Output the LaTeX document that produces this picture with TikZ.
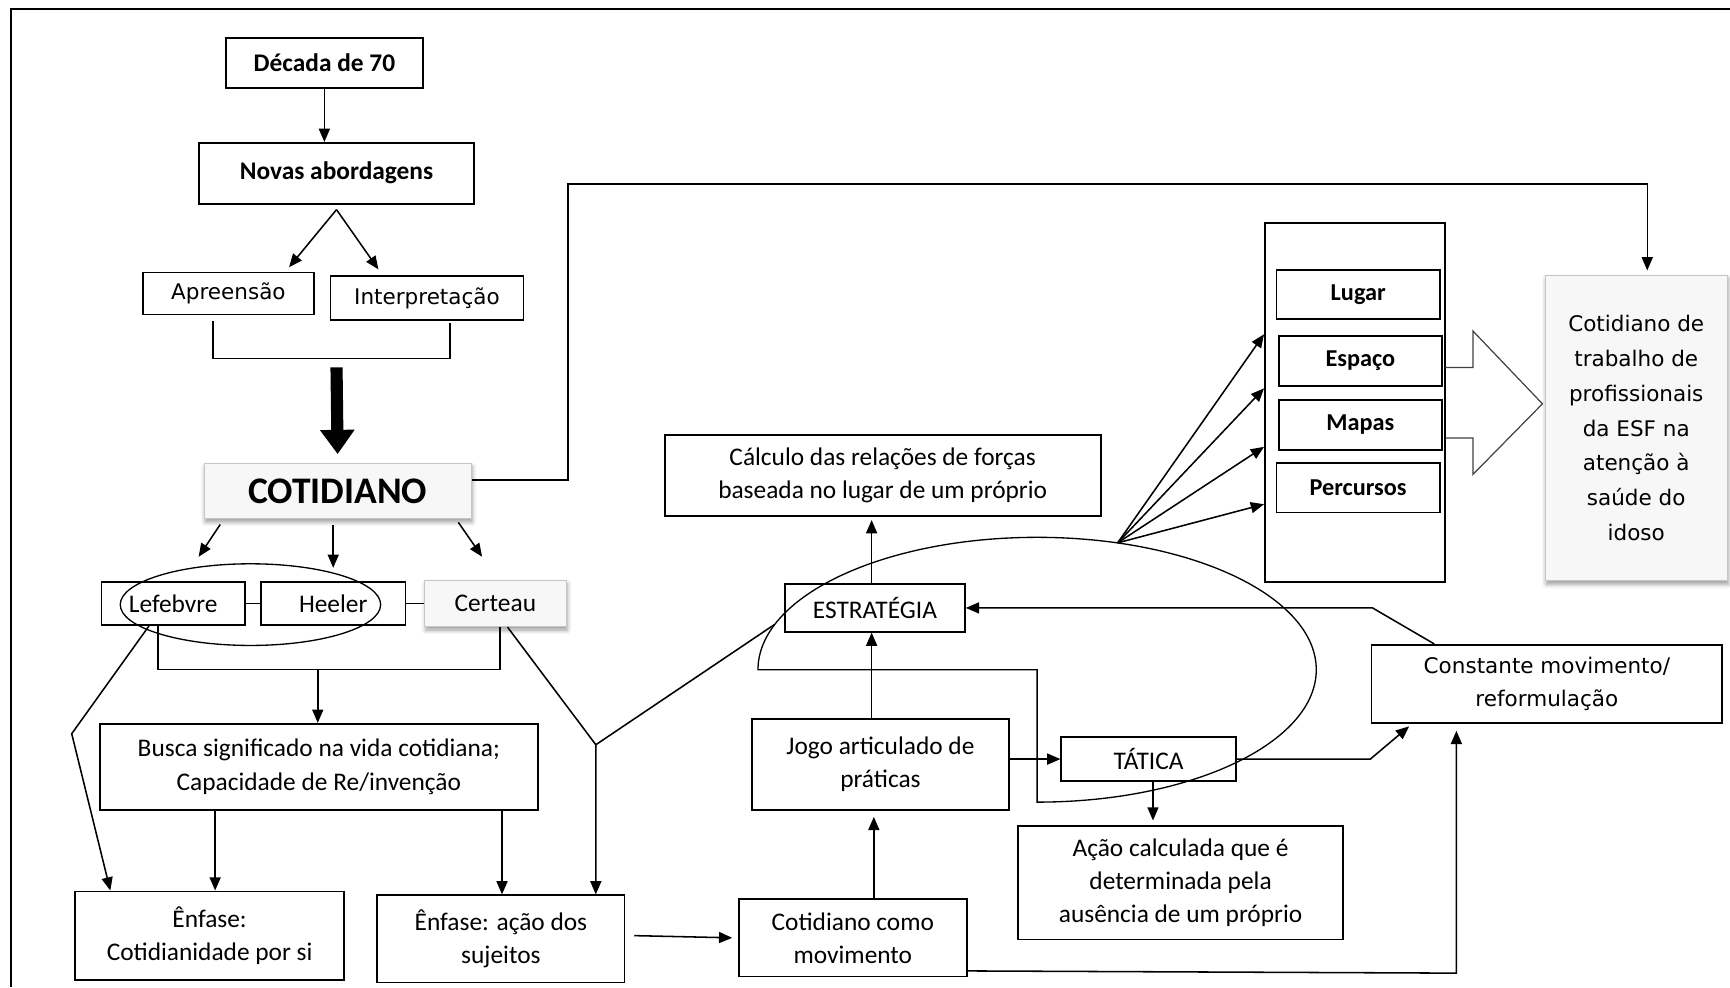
\documentclass[tikz,border=0pt]{standalone}
\usepackage{fontspec}
\setmainfont{Carlito}
\newfontfamily\tahfont{DejaVu Sans}
\usetikzlibrary{arrows.meta,shadows.blur}

\tikzset{
  box/.style={draw, line width=1.7pt, align=center, inner sep=2pt,
    font=\fontsize{23}{30}\selectfont},
  bevel/.style={box, draw=gray!45, line width=0.8pt, fill=gray!6,
    blur shadow={shadow xshift=1pt, shadow yshift=-3pt, shadow blur radius=4pt}},
  bold box/.style={box, font=\bfseries\fontsize{23}{30}\selectfont},
  wide box/.style={box, font=\tahfont\fontsize{19.5}{30}\selectfont}
}

\begin{document}
\begin{tikzpicture}[x=1pt, y=-1pt, line width=1.4pt, >={Triangle[length=12pt,width=10pt]}]
            \useasboundingbox (0,0) rectangle (1568,895);
            \draw (1568,8) -- (10,8) -- (10,895);

            \node[bold box, minimum width=178, minimum height=45] (N_1) at (294,57) {Década de 70};
            \node[bold box, minimum width=250, minimum height=55] (N_2) at (305,157) {Novas abordagens};
            \node[wide box, minimum width=155, minimum height=38] (N_3) at (207,266) {\raisebox{-5pt}{Apreensão}};
            \node[wide box, minimum width=175, minimum height=40] (N_4) at (387,270) {Interpretação};
            \node[bevel, font=\bfseries\fontsize{34}{40}\selectfont, minimum width=242, minimum height=50] (N_5) at (306,445) {COTIDIANO};
            \node[box, minimum width=130, minimum height=39] (N_6) at (157,547) {Lefebvre};
            \node[box, minimum width=131, minimum height=39] (N_7) at (302,547) {Heeler};
            \node[bevel, minimum width=128, minimum height=42] (N_8) at (449,547) {Certeau};
            \node[box, minimum width=397, minimum height=78] (N_9) at (289,695) {Busca significado na vida cotidiana;\\Capacidade de Re/invenção};
            \node[box, minimum width=244, minimum height=80] (N_10) at (190,848) {Ênfase:\\Cotidianidade por si};
            \node[box, minimum width=224, minimum height=79] (N_11) at (454,851) {Ênfase: ação dos\\sujeitos};
            \node[box, minimum width=207, minimum height=70] (N_12) at (773,850) {Cotidiano como\\movimento};
            \node[box, minimum width=233, minimum height=83] (N_13) at (798,693) {Jogo articulado de\\práticas};
            \node[box, minimum width=163, minimum height=43] (N_14) at (793,551) {ESTRATÉGIA};
            \node[box, minimum width=395, minimum height=73] (N_15) at (800,431) {Cálculo das relações de forças\\baseada no lugar de um próprio};
            \node[box, minimum width=158, minimum height=40] (N_16) at (1041,688) {TÁTICA};
            \node[box, minimum width=294, minimum height=103] (N_17) at (1070,800) {Ação calculada que é\\determinada pela\\ausência de um próprio};
            \node[wide box, minimum width=318, minimum height=71] (N_18) at (1402,620) {Constante movimento/\\reformulação};
            \node[box, minimum width=163, minimum height=325] (N_19) at (1228,365) {};
            \node[bold box, font=\bfseries\fontsize{22}{28}\selectfont, minimum width=148, minimum height=45] (N_20) at (1231,267) {Lugar};
            \node[bold box, font=\bfseries\fontsize{22}{28}\selectfont, minimum width=148, minimum height=45] (N_21) at (1233,327) {Espaço};
            \node[bold box, font=\bfseries\fontsize{22}{28}\selectfont, minimum width=148, minimum height=45] (N_22) at (1233,385) {Mapas};
            \node[bold box, font=\bfseries\fontsize{22}{28}\selectfont, minimum width=148, minimum height=45] (N_23) at (1231,442) {Percursos};
            \node[bevel, font=\tahfont\fontsize{19.5}{31.5}\selectfont, minimum width=165, minimum height=277] (N_24) at (1483,388) {Cotidiano de\\trabalho de\\profissionais\\da ESF na\\atenção à\\saúde do\\idoso};

            \coordinate (S_1) at (305,190);
            \coordinate (J_1) at (305,325);
            \coordinate (J_2) at (288,607);
            \coordinate (K_1) at (515,167);
            \coordinate (K_2) at (65,665);
            \coordinate (K_3) at (540,675);
            \coordinate (K_4) at (1242,688);
            \coordinate (K_5) at (1244,551);
            \coordinate (K_6) at (1320,882);
            \coordinate (E_1) at (702,566);
            \coordinate (F_1) at (1013,492);

            \draw[->] (N_1.south -| 294,0) -- (N_1.south |- N_2.north);
            \draw[->] (S_1) -- ([xshift=55pt,yshift=4pt]N_3.north);
            \draw[->] (S_1) -- ([xshift=-44pt,yshift=5pt]N_4.north);
            \draw ([xshift=-14pt,yshift=-5pt]N_3.south) |- (J_1) -| ([xshift=21pt,yshift=-2pt]N_4.south);
            \draw[line width=11pt, -{Triangle[length=22pt,width=30pt]}] ([yshift=-8pt]J_1) -- ([yshift=8pt]N_5.north);

            \draw[->, shorten >=4pt] ([yshift=10pt]N_5.east) -| (K_1) -| ([xshift=10pt]N_24.north);
            \draw[->] ([xshift=15pt,yshift=-5pt]N_5.south west) -- ([xshift=23pt,yshift=22pt]N_6.north);
            \draw[->] ([xshift=-4pt,yshift=-5pt]N_5.south) -- ([yshift=12pt]N_7.north);
            \draw[->] ([xshift=-12pt,yshift=-3pt]N_5.south east) -- ([xshift=-12pt,yshift=21pt]N_8.north);

            \draw (N_6) -- (N_7);
            \draw (N_7) -- (N_8);
            \draw[line width=1.2pt] (227,548) ellipse [x radius=118pt, y radius=37pt];

            \draw ([xshift=-14pt]N_6.south) |- (J_2) -| ([xshift=4pt]N_8.south);
            \draw[->] (J_2) -- (J_2 |- N_9.north);
            \draw[->] ([xshift=-22pt]N_6.south) -- (K_2) -- ([xshift=-90pt]N_10.north);
            \draw[->] ([xshift=11pt]N_8.south) -- (K_3) -- (K_3 |- N_11.north);
            \draw (K_3) -- (E_1);
            \draw[->] ([xshift=5pt]N_10.north |- N_9.south) -- ([xshift=5pt]N_10.north);
            \draw[->] ([xshift=1pt]N_11.north |- N_9.south) -- ([xshift=1pt]N_11.north);
            \draw[->] ([xshift=8pt,yshift=3pt]N_11.east) -- ([xshift=-5pt]N_12.west);

            \draw[->, shorten >=5pt] ([xshift=19pt]N_12.north) -- ([xshift=19pt]N_12.north |- N_13.south);
            \draw[->] ([xshift=-8pt]N_13.north) -- ([xshift=-8pt]N_13.north |- N_14.south);
            \draw[->, shorten >=3pt] ([xshift=-3pt]N_14.north) -- ([xshift=-3pt]N_14.north |- N_15.south);
            \draw[->] (N_13.east |- N_16.west) -- (N_16.west);
            \draw[->, shorten >=4pt] ([xshift=4pt]N_16.south) -- ([xshift=4pt]N_16.south |- N_17.north);
            \draw[->] (N_16.east) -- (K_4) -- ([xshift=35pt,yshift=-2pt]N_18.south west);
            \draw[->] ([xshift=-102pt]N_18.north) -- (K_5) -- (N_14.east);
            \draw[->, shorten >=6pt] ([yshift=-30pt]N_12.east) -- (K_6) -- ([xshift=-82pt]N_18.south);

            \draw[line width=1.2pt] (940,727) arc[start angle=-90, end angle=180, x radius=253pt, y radius=120pt] -- (940,607) -- cycle;

            \draw[->] (F_1) -- ([yshift=62pt]N_19.west);
            \draw[->] (F_1) -- ([yshift=13pt]N_19.west);
            \draw[->] (F_1) -- ([yshift=-40pt]N_19.west);
            \draw[->] (F_1) -- ([yshift=-92pt]N_19.west);

            \draw[line width=1.1pt, draw=black!75] (1310,333) -- (1335,333) -- (1335,300) -- (1398,366) -- (1335,430) -- (1335,397) -- (1310,397);
        \end{tikzpicture}
\end{document}
